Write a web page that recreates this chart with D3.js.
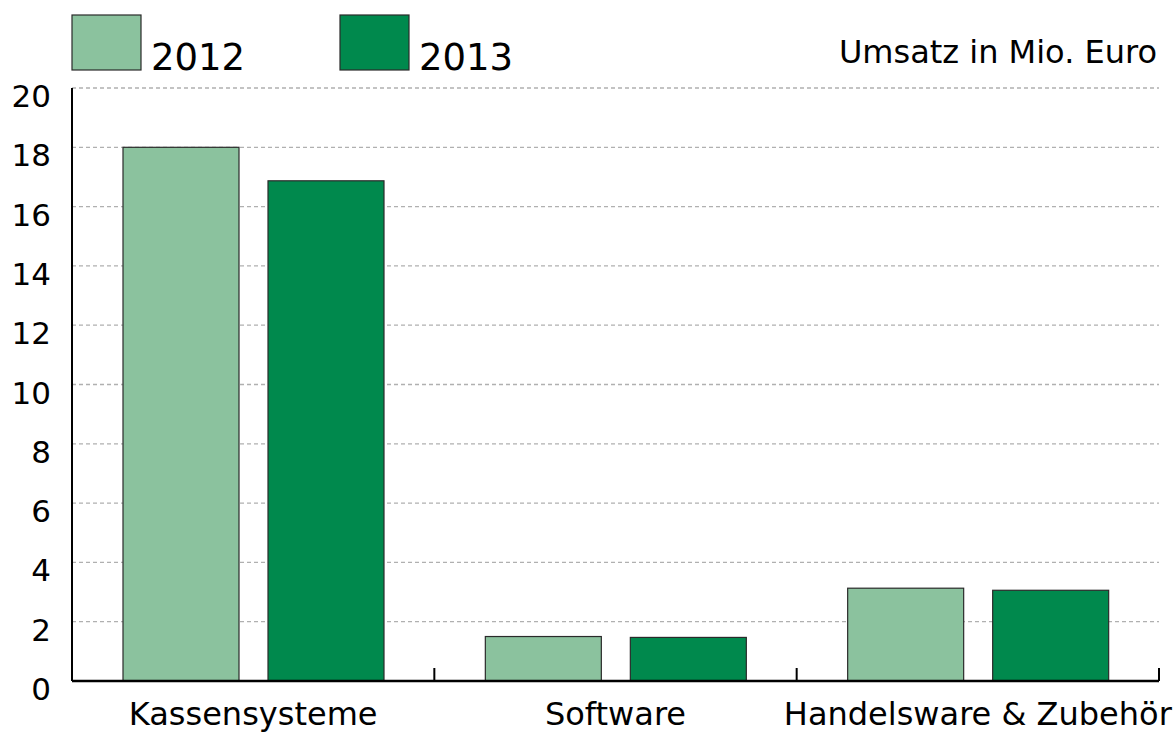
<!DOCTYPE html>
<html>
<head>
<meta charset="utf-8">
<script src="https://cdn.jsdelivr.net/npm/d3@7"></script>
<style>
  body { margin: 0; background: #fff; }
  svg { display: block; font-family: "DejaVu Sans", sans-serif; }
</style>
</head>
<body>
<div id="chart"></div>
<script>
// Data
const categories = ["Kassensysteme", "Software", "Handelsware & Zubehör"];
const years = ["2012", "2013"];
const values2012 = [18.0, 1.5, 3.13];
const values2013 = [16.87, 1.47, 3.06];
const yTicks = [0, 2, 4, 6, 8, 10, 12, 14, 16, 18, 20];
const unitLabel = "Umsatz in Mio. Euro";

const colors = {"2012": "#8bc29e", "2013": "#00894d"};

/*******************************/
/*    Declare the constants    */
/*******************************/
const width = 1175;
const height = 734;
const margin = {top: 88, right: 16, bottom: 53, left: 72};

const svg = d3.select("#chart")
  .append("svg")
    .attr("width", width)
    .attr("height", height);

/****************************/
/*    Declare the scales    */
/****************************/
const xScale = d3.scaleBand()
  .domain(categories)
  .range([margin.left, width - margin.right])
  .padding(0);

const xSub = d3.scaleBand()
  .domain(years)
  .range([51, 312])
  .paddingInner(0.2)
  .paddingOuter(0);

const yScale = d3.scaleLinear()
  .domain([0, 20])
  .range([height - margin.bottom, margin.top]);

/****************************/
/*    Grid lines            */
/****************************/
svg.append("g")
  .selectAll("line")
  .data(yTicks.filter(d => d > 0))
  .join("line")
    .attr("x1", margin.left)
    .attr("x2", width - margin.right)
    .attr("y1", d => yScale(d))
    .attr("y2", d => yScale(d))
    .attr("stroke", "#b0b0b0")
    .attr("stroke-width", 1.3)
    .attr("stroke-dasharray", "4,3");

/****************************/
/*    Bars                  */
/****************************/
const rows = categories.map((c, i) => ({
  category: c,
  values: [{year: "2012", value: values2012[i]}, {year: "2013", value: values2013[i]}]
}));

svg.append("g")
  .selectAll("g")
  .data(rows)
  .join("g")
    .attr("transform", d => `translate(${xScale(d.category)}, 0)`)
  .selectAll("rect")
  .data(d => d.values)
  .join("rect")
    .attr("x", d => xSub(d.year))
    .attr("y", d => yScale(d.value))
    .attr("width", xSub.bandwidth())
    .attr("height", d => yScale(0) - yScale(d.value))
    .attr("fill", d => colors[d.year])
    .attr("stroke", "#2a2a2a")
    .attr("stroke-width", 1.2);

/****************************/
/*    Axes                  */
/****************************/
// y axis line and labels
svg.append("line")
  .attr("x1", margin.left)
  .attr("x2", margin.left)
  .attr("y1", yScale(20))
  .attr("y2", yScale(0))
  .attr("stroke", "#000")
  .attr("stroke-width", 2);

svg.append("g")
  .selectAll("text")
  .data(yTicks)
  .join("text")
    .text(d => d)
    .attr("x", 51)
    .attr("y", d => yScale(d) + 19)
    .attr("text-anchor", "end")
    .style("font-size", "31px")
    .attr("fill", "#000");

// x axis line with category separators
svg.append("line")
  .attr("x1", margin.left)
  .attr("x2", width - margin.right)
  .attr("y1", yScale(0))
  .attr("y2", yScale(0))
  .attr("stroke", "#000")
  .attr("stroke-width", 2.5);

svg.append("g")
  .selectAll("line")
  .data(categories)
  .join("line")
    .attr("x1", d => xScale(d) + xScale.bandwidth())
    .attr("x2", d => xScale(d) + xScale.bandwidth())
    .attr("y1", yScale(0))
    .attr("y2", yScale(0) - 13)
    .attr("stroke", "#000")
    .attr("stroke-width", 2);

svg.append("g")
  .selectAll("text")
  .data(categories)
  .join("text")
    .text(d => d)
    .attr("x", d => xScale(d) + xScale.bandwidth() / 2)
    .attr("y", 725)
    .attr("text-anchor", "middle")
    .style("font-size", "32px")
    .attr("fill", "#000");

/****************************/
/*    Legend and unit       */
/****************************/
const legendX = [72, 340];
const legend = svg.append("g")
  .selectAll("g")
  .data(years)
  .join("g")
    .attr("transform", (d, i) => `translate(${legendX[i]}, 15)`);

legend.append("rect")
  .attr("width", 69)
  .attr("height", 55)
  .attr("fill", d => colors[d])
  .attr("stroke", "#2a2a2a")
  .attr("stroke-width", 1.2);

legend.append("text")
  .text(d => d)
  .attr("x", 79)
  .attr("y", 55)
  .style("font-size", "37px")
  .attr("fill", "#000");

svg.append("text")
  .text(unitLabel)
  .attr("x", 1157)
  .attr("y", 63)
  .attr("text-anchor", "end")
  .style("font-size", "32px")
  .attr("fill", "#000");
</script>
</body>
</html>
